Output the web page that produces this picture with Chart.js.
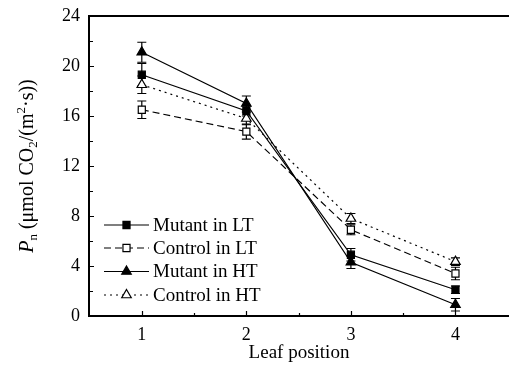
<!DOCTYPE html>
<html>
<head>
<meta charset="utf-8">
<script src="https://cdn.jsdelivr.net/npm/chart.js"></script>
<style>
  html, body { margin: 0; padding: 0; background: #fff; overflow: hidden; }
</style>
</head>
<body>
<canvas id="chart" width="509" height="369"></canvas>
<script>
// leaf positions (x) and the four series
const leafPositions = [1, 2, 3, 4];
const xTickLabels = ['1', '2', '3', '4'];
const yTicks = [0, 4, 8, 12, 16, 20, 24];

const mutantLT = [19.3, 16.4, 4.9, 2.1];
const controlLT = [16.5, 14.75, 6.9, 3.4];
const mutantHT = [21.1, 17.0, 4.3, 0.9];
const controlHT = [18.5, 15.8, 7.8, 4.35];

const mutantLTErr = [0.9, 0.4, 0.5, 0.3];
const controlLTErr = [0.7, 0.6, 0.4, 0.5];
const mutantHTErr = [0.8, 0.6, 0.5, 0.5];
const controlHTErr = [0.7, 0.5, 0.4, 0.3];

const seriesNames = ['Mutant in LT', 'Control in LT', 'Mutant in HT', 'Control in HT'];

const FONT = '"Liberation Serif", "Times New Roman", serif';

function points(vals) {
    return leafPositions.map((x, i) => ({ x: x, y: vals[i] }));
}

function makeSet(label, vals, errs, style, filled, dash) {
    return {
        label: label,
        data: points(vals),
        errors: errs,
        borderColor: '#000',
        borderWidth: 1.2,
        borderDash: dash,
        backgroundColor: filled ? '#000' : '#fff',
        pointStyle: style,
        pointRadius: style === 'triangle' ? 5.5 : 5,
        pointBorderWidth: 1.2,
        pointBorderColor: '#000',
        pointBackgroundColor: filled ? '#000' : '#fff',
        fill: false,
        tension: 0
    };
}

// error bars under the markers
const errorBars = {
    id: 'errorBars',
    beforeDatasetsDraw(chart) {
        const ctx = chart.ctx;
        const xs = chart.scales.x, ys = chart.scales.y;
        ctx.save();
        ctx.strokeStyle = '#000';
        ctx.lineWidth = 1.2;
        chart.data.datasets.forEach(ds => {
            ds.data.forEach((p, i) => {
                const e = ds.errors[i];
                const x = xs.getPixelForValue(p.x);
                const y1 = ys.getPixelForValue(p.y + e);
                const y2 = ys.getPixelForValue(p.y - e);
                ctx.beginPath();
                ctx.moveTo(x, y1); ctx.lineTo(x, y2);
                ctx.moveTo(x - 4.5, y1); ctx.lineTo(x + 4.5, y1);
                ctx.moveTo(x - 4.5, y2); ctx.lineTo(x + 4.5, y2);
                ctx.stroke();
            });
        });
        ctx.restore();
    }
};

function drawMarker(ctx, style, filled, x, y, r) {
    ctx.beginPath();
    if (style === 'rect') {
        const s = r * Math.SQRT2;
        ctx.rect(x - s / 2, y - s / 2, s, s);
    } else {
        const a = 2 * Math.PI / 3;
        ctx.moveTo(x, y - r);
        ctx.lineTo(x + Math.sin(a) * r, y - Math.cos(a) * r);
        ctx.lineTo(x - Math.sin(a) * r, y - Math.cos(a) * r);
        ctx.closePath();
    }
    ctx.fillStyle = filled ? '#000' : '#fff';
    ctx.fill();
    ctx.setLineDash([]);
    ctx.lineWidth = 1.2;
    ctx.strokeStyle = '#000';
    ctx.stroke();
}

// frame, inward ticks, axis titles and legend
const frame = {
    id: 'frame',
    afterDraw(chart) {
        const ctx = chart.ctx;
        const a = chart.chartArea;
        const xs = chart.scales.x, ys = chart.scales.y;
        const W = chart.width;
        ctx.save();
        ctx.strokeStyle = '#000';
        ctx.lineWidth = 2;
        ctx.beginPath();
        ctx.moveTo(a.left, a.top); ctx.lineTo(W, a.top);
        ctx.moveTo(a.left, a.top - 1); ctx.lineTo(a.left, a.bottom + 1);
        ctx.moveTo(a.left - 1, a.bottom); ctx.lineTo(W, a.bottom);
        ctx.stroke();

        ctx.lineWidth = 1.2;
        ctx.beginPath();
        for (let v = 2; v < 24; v += 2) {
            const y = Math.round(ys.getPixelForValue(v)) + 0.5;
            const len = v % 4 === 0 ? 5 : 4;
            ctx.moveTo(a.left, y); ctx.lineTo(a.left + len, y);
        }
        for (let v = 1; v <= 4.01; v += 0.5) {
            const x = Math.round(xs.getPixelForValue(v)) + 0.5;
            const len = Number.isInteger(v) ? 5 : 3;
            ctx.moveTo(x, a.bottom); ctx.lineTo(x, a.bottom - len);
        }
        ctx.stroke();

        // x title
        ctx.fillStyle = '#000';
        ctx.font = '19px ' + FONT;
        ctx.textAlign = 'center';
        ctx.textBaseline = 'alphabetic';
        ctx.fillText('Leaf position', (a.left + W) / 2, 358);

        // y title with italic P and sub/superscripts
        const parts = [
            { t: 'P', f: 'italic 20px ' + FONT, dy: 0 },
            { t: 'n', f: '13px ' + FONT, dy: 4 },
            { t: ' (\u03bcmol CO', f: '20px ' + FONT, dy: 0 },
            { t: '2', f: '13px ' + FONT, dy: 4 },
            { t: '/(m', f: '20px ' + FONT, dy: 0 },
            { t: '2', f: '13px ' + FONT, dy: -8 },
            { t: '\u00b7s))', f: '20px ' + FONT, dy: 0 }
        ];
        let total = 0;
        parts.forEach(p => { ctx.font = p.f; p.w = ctx.measureText(p.t).width; total += p.w; });
        ctx.translate(33, (a.top + a.bottom) / 2);
        ctx.rotate(-Math.PI / 2);
        ctx.textAlign = 'left';
        let cx = -total / 2;
        parts.forEach(p => {
            ctx.font = p.f;
            ctx.fillText(p.t, cx, p.dy);
            cx += p.w;
        });
        ctx.setTransform(1, 0, 0, 1, 0, 0);

        // legend
        const rows = [225, 248, 271.5, 295];
        chart.data.datasets.forEach((ds, i) => {
            const y = rows[i];
            const x0 = a.left + 15, x1 = a.left + 60, xm = (x0 + x1) / 2;
            ctx.strokeStyle = '#000';
            ctx.lineWidth = 1.2;
            ctx.setLineDash(ds.borderDash || []);
            ctx.beginPath();
            ctx.moveTo(x0, y); ctx.lineTo(x1, y);
            ctx.stroke();
            drawMarker(ctx, ds.pointStyle, ds.pointBackgroundColor === '#000', xm, y, ds.pointRadius);
            ctx.fillStyle = '#000';
            ctx.font = '19px ' + FONT;
            ctx.textAlign = 'left';
            ctx.textBaseline = 'middle';
            ctx.fillText(ds.label, a.left + 64, y + 1);
        });
        ctx.restore();
    }
};

new Chart(document.getElementById('chart'), {
    type: 'line',
    data: {
        datasets: [
            makeSet(seriesNames[0], mutantLT, mutantLTErr, 'rect', true, []),
            makeSet(seriesNames[1], controlLT, controlLTErr, 'rect', false, [7, 4]),
            makeSet(seriesNames[2], mutantHT, mutantHTErr, 'triangle', true, []),
            makeSet(seriesNames[3], controlHT, controlHTErr, 'triangle', false, [2, 4])
        ]
    },
    options: {
        responsive: false,
        devicePixelRatio: 1,
        animation: false,
        layout: { padding: { top: 16, right: 0, left: 0, bottom: 0 } },
        plugins: {
            legend: { display: false },
            tooltip: { enabled: false }
        },
        scales: {
            x: {
                type: 'linear',
                min: 0.495,
                max: 4.448,
                grid: { display: false, drawTicks: false },
                border: { display: false },
                afterBuildTicks: s => { s.ticks = leafPositions.map(v => ({ value: v })); },
                afterFit: s => { s.height = 53; },
                ticks: {
                    color: '#000',
                    padding: 8,
                    font: { family: FONT, size: 18 },
                    callback: (v) => xTickLabels[leafPositions.indexOf(v)]
                }
            },
            y: {
                min: 0,
                max: 24,
                grid: { display: false, drawTicks: false },
                border: { display: false },
                afterBuildTicks: s => { s.ticks = yTicks.map(v => ({ value: v })); },
                afterFit: s => { s.width = 89; },
                ticks: {
                    color: '#000',
                    padding: 9,
                    font: { family: FONT, size: 18, lineHeight: 0.6 }
                }
            }
        }
    },
    plugins: [errorBars, frame]
});
</script>
</body>
</html>
